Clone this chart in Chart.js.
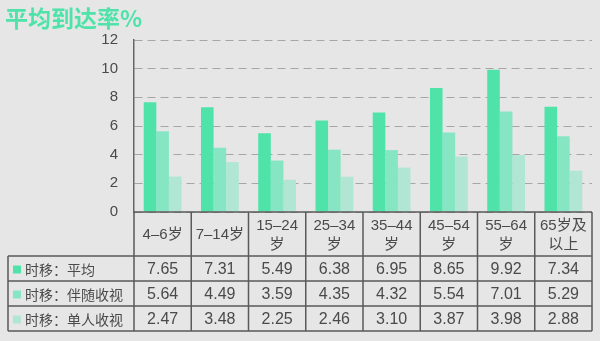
<!DOCTYPE html>
<html>
<head>
<meta charset="utf-8">
<script src="https://cdn.jsdelivr.net/npm/chart.js@4"></script>
<style>
  html, body { margin: 0; padding: 0; background: #e6e6e6; }
  #wrap { width: 600px; height: 341px; }
</style>
</head>
<body>
<div id="wrap"><canvas id="reach" width="600" height="341"></canvas></div>
<script>
// DADOS
const titleText = "平均到达率%";
const categories = [["4–6岁"], ["7–14岁"], ["15–24", "岁"], ["25–34", "岁"], ["35–44", "岁"], ["45–54", "岁"], ["55–64", "岁"], ["65岁及", "以上"]];
const seriesNames = ["时移：平均", "时移：伴随收视", "时移：单人收视"];
const avgValues = [7.65, 7.31, 5.49, 6.38, 6.95, 8.65, 9.92, 7.34];
const accompanyValues = [5.64, 4.49, 3.59, 4.35, 4.32, 5.54, 7.01, 5.29];
const aloneValues = [2.47, 3.48, 2.25, 2.46, 3.10, 3.87, 3.98, 2.88];
const yTicks = [0, 2, 4, 6, 8, 10, 12];

const colors = ["#50e3a9", "#86e6c4", "#b2e6d4"];
const textColor = "#4a4a4a";
const lineColor = "#5a5a5a";
const latin = "'Liberation Sans', 'Noto Sans CJK SC', sans-serif";
const cjk = "'Noto Sans CJK SC', sans-serif";

// TABELA + TÍTULO
const tablePlugin = {
    id: "dataTable",
    afterDraw(chart) {
        const ctx = chart.ctx;
        const area = chart.chartArea;
        const x = chart.scales.x;
        const colW = (area.right - area.left) / categories.length;
        const tableLeft = 8;
        const headTop = area.bottom;
        const headBottom = headTop + 44;
        const rowH = 25;
        const tableBottom = headBottom + rowH * 3;
        const rows = [avgValues, accompanyValues, aloneValues];

        ctx.save();

        // título
        ctx.fillStyle = colors[0];
        ctx.font = "bold 23px " + cjk;
        ctx.textAlign = "left";
        ctx.textBaseline = "middle";
        ctx.fillText(titleText, 5, 18);

        // linhas da tabela
        ctx.strokeStyle = lineColor;
        ctx.lineWidth = 1.5;
        ctx.beginPath();
        ctx.moveTo(area.left, headTop);
        ctx.lineTo(area.right, headTop);
        for (let r = 0; r <= 3; r++) {
            const y = headBottom + r * rowH;
            ctx.moveTo(tableLeft, y);
            ctx.lineTo(area.right, y);
        }
        ctx.moveTo(tableLeft, headBottom);
        ctx.lineTo(tableLeft, tableBottom);
        for (let i = 0; i <= categories.length; i++) {
            const cx = area.left + i * colW;
            ctx.moveTo(cx, headTop);
            ctx.lineTo(cx, tableBottom);
        }
        ctx.stroke();

        // cabeçalho
        ctx.fillStyle = textColor;
        ctx.textAlign = "center";
        ctx.font = "15px " + latin;
        categories.forEach((lines, i) => {
            const cx = x.getPixelForValue(i);
            const mid = (headTop + headBottom) / 2 + 1;
            lines.forEach((line, k) => {
                const y = lines.length === 1 ? mid : mid + (k - 0.5) * 19;
                ctx.fillText(line, cx, y);
            });
        });

        // linhas de dados
        rows.forEach((vals, r) => {
            const cy = headBottom + r * rowH + rowH / 2 + 1;
            ctx.fillStyle = colors[r];
            ctx.fillRect(13, cy - 4, 8, 8);
            ctx.fillStyle = textColor;
            ctx.textAlign = "left";
            ctx.font = "14px " + cjk;
            ctx.fillText(seriesNames[r], 25, cy);
            ctx.textAlign = "center";
            ctx.font = "16px " + latin;
            vals.forEach((v, i) => {
                ctx.fillText(v.toFixed(2), x.getPixelForValue(i), cy);
            });
        });

        ctx.restore();
    }
};

// GRÁFICO
function loadChart() {
    const ctx = document.getElementById("reach");

    new Chart(ctx, {
        type: "bar",
        data: {
            labels: categories,
            datasets: [
                { label: seriesNames[0], data: avgValues, backgroundColor: colors[0] },
                { label: seriesNames[1], data: accompanyValues, backgroundColor: colors[1] },
                { label: seriesNames[2], data: aloneValues, backgroundColor: colors[2] }
            ]
        },
        options: {
            responsive: false,
            animation: false,
            devicePixelRatio: 1,
            layout: { padding: { left: 0, top: 40, right: 8, bottom: 129 } },
            datasets: { bar: { categoryPercentage: 0.66, barPercentage: 1 } },
            plugins: {
                legend: { display: false },
                tooltip: { enabled: false },
                title: { display: false }
            },
            scales: {
                x: { display: false },
                y: {
                    min: 0,
                    max: 12,
                    afterFit: scale => { scale.width = 134; },
                    afterBuildTicks: scale => { scale.ticks = yTicks.map(v => ({ value: v })); },
                    ticks: { padding: 16, color: textColor, font: { family: latin, size: 15 } },
                    grid: { color: "#a6a6a6", lineWidth: 1, drawTicks: false },
                    border: { display: true, color: "#666", width: 1.5, dash: [8, 5] }
                }
            }
        },
        plugins: [tablePlugin]
    });
}

window.onload = loadChart;
</script>
</body>
</html>
